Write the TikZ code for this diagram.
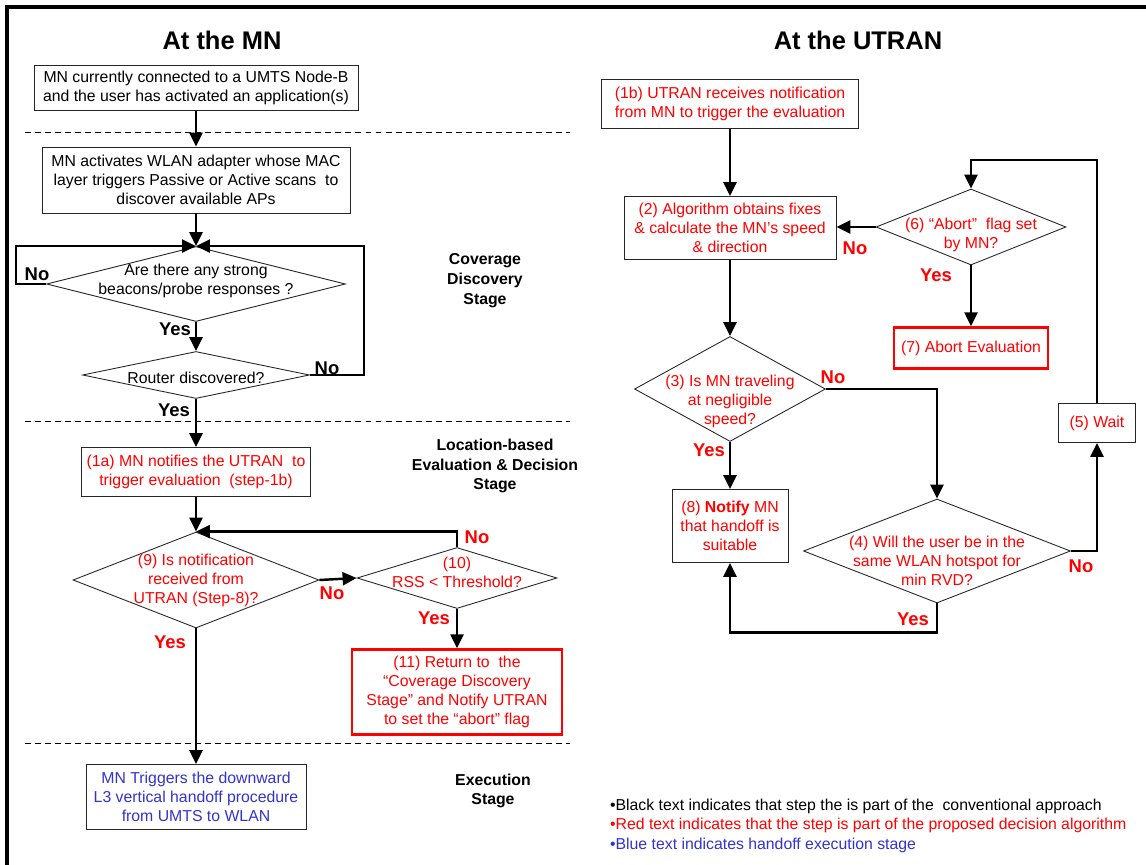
\documentclass[tikz,border=0pt]{standalone}
\usepackage{fontspec}
\setmainfont{Liberation Sans}
\usetikzlibrary{shapes.geometric,arrows.meta,calc}
\definecolor{txtblue}{RGB}{51,51,204}

\begin{document}
\begin{tikzpicture}[x=0.02cm,y=-0.02cm,
    every node/.style={font=\fontsize{9}{10.8}\selectfont,align=center,inner sep=1pt},
    stepbox/.style={draw=black!85,line width=0.5pt,inner sep=0pt},
    redbox/.style={draw=red,line width=1.4pt,inner sep=0pt,text=red},
    dmd/.style={draw=black!85,diamond,line width=0.5pt,inner sep=0pt},
    flow/.style={line width=1.4pt,-{Triangle[length=0.28cm,width=0.26cm]}},
    yn/.style={font=\fontsize{10.5}{12}\selectfont\bfseries},
    stage/.style={font=\fontsize{9}{11.3}\selectfont\bfseries},
    ttl/.style={font=\fontsize{14.5}{17}\selectfont\bfseries}]

    \useasboundingbox (0,0) rectangle (1146,865);
    \draw[line width=2pt] (7,865) -- (7,7) -- (1146,7);

    \node[ttl] (ttlmn) at (222,40) {At the MN};
    \node[ttl] (ttlut) at (858,40) {At the UTRAN};

    \foreach \y in {132,421,743} {
    \draw[line width=0.5pt,dash pattern=on 3.4pt off 2.3pt] (25,\y) -- (570,\y);}

    % at the MN
    \node[stepbox,minimum width=6.48cm,minimum height=0.9cm] (a1) at (196,88)
        {MN currently connected to a UMTS Node-B\\and the user has activated an application(s)};
    \node[stepbox,minimum width=6.16cm,minimum height=1.32cm] (a2) at (196,180)
        {MN activates WLAN adapter whose MAC\\layer triggers Passive or Active scans\ \ to\\discover available APs};
    \node[dmd,minimum width=5.98cm,minimum height=1.5cm,
        label={[yshift=0.06cm]center:Are there any strong\\beacons/probe responses ?}] (d1) at (196,284) {};
    \node[dmd,minimum width=4.54cm,minimum height=0.94cm,
        label={[yshift=-0.06cm]center:Router discovered?}] (d2) at (196,375) {};
    \node[stepbox,text=red,minimum width=4.58cm,minimum height=0.98cm] (a3) at (196,472)
        {(1a) MN notifies the UTRAN\ \ to\\trigger evaluation\ \ (step-1b)};
    \node[dmd,minimum width=4.92cm,minimum height=1.92cm,
        label={[red]center:(9) Is notification\\received from\\UTRAN (Step-8)?}] (d9) at (196,580) {};
    \node[dmd,minimum width=4cm,minimum height=1.22cm,
        label={[red,yshift=0.12cm]center:(10)\\RSS < Threshold?}] (d10) at (457,578) {};
    \node[redbox,minimum width=4.2cm,minimum height=1.7cm] (a11) at (457,692)
        {(11) Return to\ \ the\\“Coverage Discovery\\Stage” and Notify UTRAN\\to set the “abort” flag};
    \node[stepbox,text=txtblue,minimum width=4.4cm,minimum height=1.3cm] (a12) at (196,797)
        {MN Triggers the downward\\L3 vertical handoff procedure\\from UMTS to WLAN};

    \node[stage] (stg1) at (485,281) {Coverage\\Discovery\\Stage};
    \node[stage] (stg2) at (495,466) {Location-based\\Evaluation \& Decision\\Stage};
    \node[stage] (stg3) at (493,791) {Execution\\Stage};

    \draw[flow] (a1) -- (a2);
    \draw[flow] (a2) -- (d1);
    \draw[flow] (d1.west) -- ++(-30,0) |- (d1.north);
    \draw[flow] (d1) -- (d2);
    \draw[flow] (d2.east) -- ++(54,0) |- (d1.north);
    \draw[flow] (d2) -- (a3);
    \draw[flow] (a3) -- (d9);
    \draw[flow] (d9.east) -- (d10.west);
    \draw[flow] (d10.north) |- (d9.north);
    \draw[flow] (d10) -- (a11);
    \draw[flow] (d9) -- (a12);

    % at the UTRAN
    \node[stepbox,text=red,minimum width=5.14cm,minimum height=0.98cm] (b1) at (730,104)
        {(1b) UTRAN receives notification\\from MN to trigger the evaluation};
    \node[stepbox,text=red,minimum width=4.24cm,minimum height=1.26cm] (b2) at (730,228)
        {(2) Algorithm obtains fixes\\\& calculate the MN’s speed\\\& direction};
    \node[dmd,minimum width=3.8cm,minimum height=1.52cm,
        label={[red,yshift=-0.15cm]center:(6) “Abort”\ \ flag set\\by MN?}] (d6) at (971,227) {};
    \node[redbox,minimum width=3.08cm,minimum height=0.82cm] (b7) at (971,348) {(7) Abort Evaluation};
    \node[dmd,minimum width=3.82cm,minimum height=2.1cm,
        label={[red,yshift=-0.24cm]center:(3) Is MN traveling\\at negligible\\speed?}] (d3) at (730,389) {};
    \node[stepbox,text=red,minimum width=2.32cm,minimum height=1.46cm] (b8) at (730,526)
        {(8) \textbf{Notify} MN\\that handoff is\\suitable};
    \node[dmd,minimum width=5.34cm,minimum height=2.08cm,
        label={[red,yshift=-0.2cm]center:(4) Will the user be in the\\same WLAN hotspot for\\min RVD?}] (d4) at (937,551) {};
    \node[stepbox,text=red,minimum width=1.54cm,minimum height=0.78cm] (b5) at (1097,423) {(5) Wait};
    \coordinate (top6) at (971,160);

    \draw[flow] (b1) -- (b2);
    \draw[flow] (b2) -- (d3);
    \draw[flow] (d6.west) -- (d6.west -| b2.east);
    \draw[flow] (d6) -- (b7);
    \draw[flow] (d3.east) -| (d4.north);
    \draw[flow] (d3) -- (b8);
    \draw[flow] (d4.east) -| (b5.south);
    \draw[flow] (b5.north) |- (top6) -- (d6.north);
    \draw[flow] (d4.south) -- ++(0,29) -| (b8.south);

    \foreach \px/\py/\t/\c [count=\i] in {37/274/No/black,175/329/Yes/black,327/368/No/black,
        174/410/Yes/black,477/537/No/red,332/593/No/red,434/618/Yes/red,170/642/Yes/red,
        855/248/No/red,936/275/Yes/red,833/377/No/red,709/450/Yes/red,1081/566/No/red,913/619/Yes/red} {
    \node[yn,text=\c] (yn\i) at (\px,\py) {\t};}

    \node[anchor=west] (lg1) at (608,806) {•Black text indicates that step the is part of the\ \ conventional approach};
    \node[anchor=west,text=red] (lg2) at (608,825) {•Red text indicates that the step is part of the proposed decision algorithm};
    \node[anchor=west,text=txtblue] (lg3) at (608,845) {•Blue text indicates handoff execution stage};

\end{tikzpicture}
\end{document}
